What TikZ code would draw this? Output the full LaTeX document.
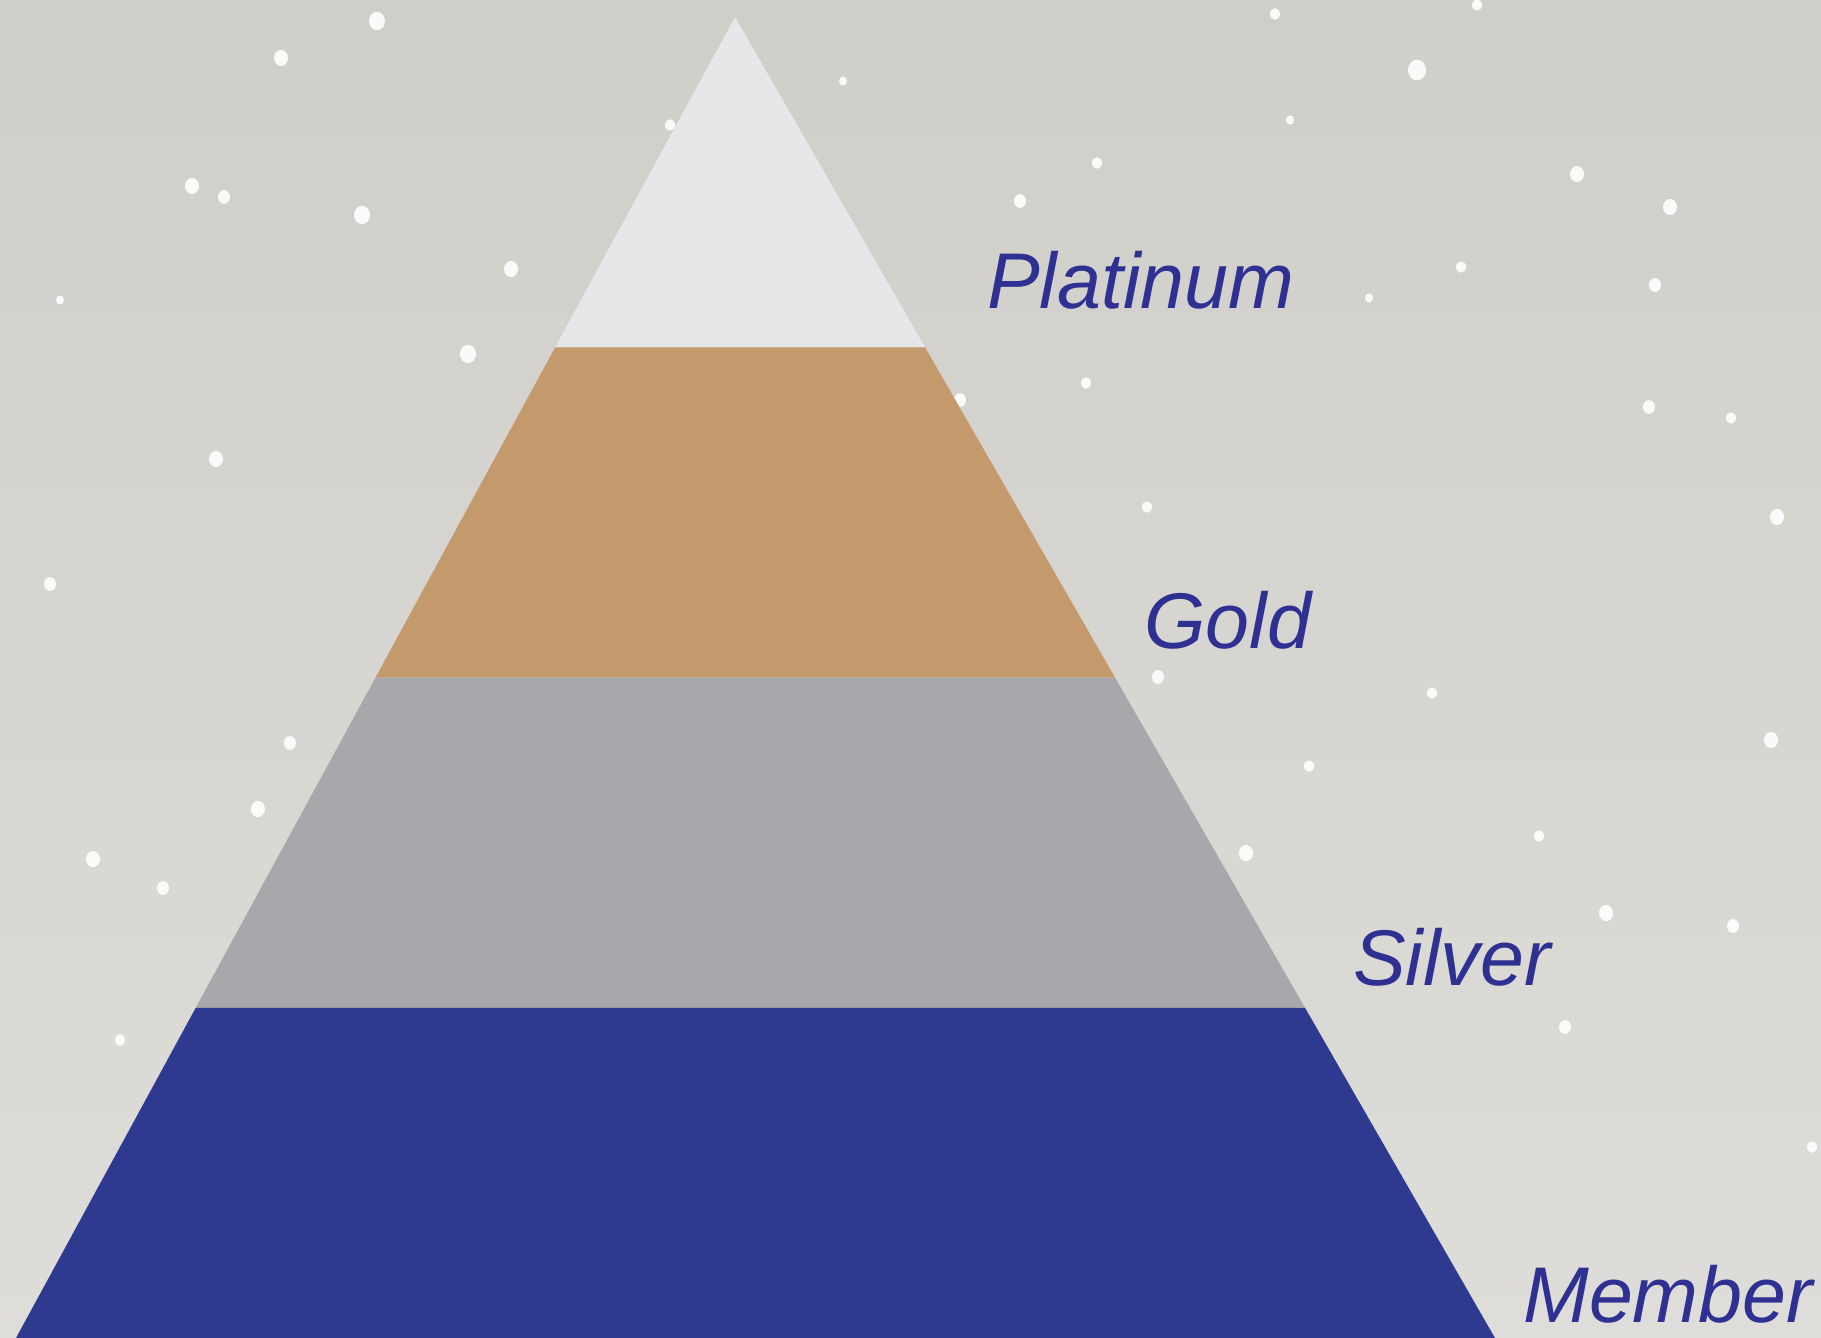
\documentclass[tikz,border=0pt]{standalone}
\usepackage{fontspec}
\setmainfont{Liberation Sans}
\usetikzlibrary{calc}
\definecolor{bgtop}{HTML}{CFCEC9}
\definecolor{bgbot}{HTML}{DFDDD9}
\definecolor{platc}{HTML}{E6E7E9}
\definecolor{goldc}{HTML}{C4996B}
\definecolor{silvc}{HTML}{A7A8AB}
\definecolor{membc}{HTML}{2E3A90}
\definecolor{labc}{HTML}{2E3192}
\tikzset{
  tierlabel/.style={anchor=base west, inner sep=0pt, text=labc, font=\fontsize{79}{86}\selectfont\itshape},
  snow/.style={fill=white, opacity=0.9}
}
\begin{document}
\begin{tikzpicture}[x=1pt,y=-1pt]
\shade[top color=bgtop, bottom color=bgbot] (0,0) rectangle (1821,1338);
\useasboundingbox (0,0) rectangle (1821,1338);
% snow
\foreach \sx/\sy/\r in {377/21/8, 281/58/7, 192/186/7, 224/197/6, 362/215/8, 511/269/7, 468/354/8, 216/459/7, 50/584/6, 258/809/7, 93/859/7, 163/888/6, 290/743/6, 1417/70/9, 1577/174/7, 1670/207/7, 1655/285/6, 1777/517/7, 1649/407/6, 1771/740/7, 1606/913/7, 1733/926/6, 1246/853/7, 1565/1027/6, 1309/766/5, 1432/693/5, 1158/677/6, 1147/507/5, 960/400/6, 1086/383/5, 1097/163/5, 1020/201/6, 843/81/4, 1461/267/5, 1369/298/4, 1731/418/5, 1539/836/5, 1275/14/5, 1477/5/5, 1812/1147/5, 670/125/5, 120/1040/5, 60/300/4, 1200/1090/5, 1290/120/4}
  {\fill[snow] (\sx,\sy) ellipse ({\r} and {\r*1.15});}
% pyramid
\coordinate (A) at (735,17);
\coordinate (L) at (16,1338);
\coordinate (R) at (1495,1338);
\coordinate (L1) at ($(A)!0.25!(L)$);
\coordinate (R1) at ($(A)!0.25!(R)$);
\coordinate (L2) at ($(A)!0.5!(L)$);
\coordinate (R2) at ($(A)!0.5!(R)$);
\coordinate (L3) at ($(A)!0.75!(L)$);
\coordinate (R3) at ($(A)!0.75!(R)$);
\fill[platc] (A) -- (R1) -- (L1) -- cycle;
\fill[goldc] (L1) -- (R1) -- (R2) -- (L2) -- cycle;
\fill[silvc] (L2) -- (R2) -- (R3) -- (L3) -- cycle;
\fill[membc] (L3) -- (R3) -- (R) -- (L) -- cycle;
% labels
\node[tierlabel] (plat) at (987,308) {Platinum};
\node[tierlabel] (gold) at (1144,648) {Gold};
\node[tierlabel] (silv) at (1353,985) {Silver};
\node[tierlabel] (memb) at (1523,1322) {Member};
\end{tikzpicture}
\end{document}
